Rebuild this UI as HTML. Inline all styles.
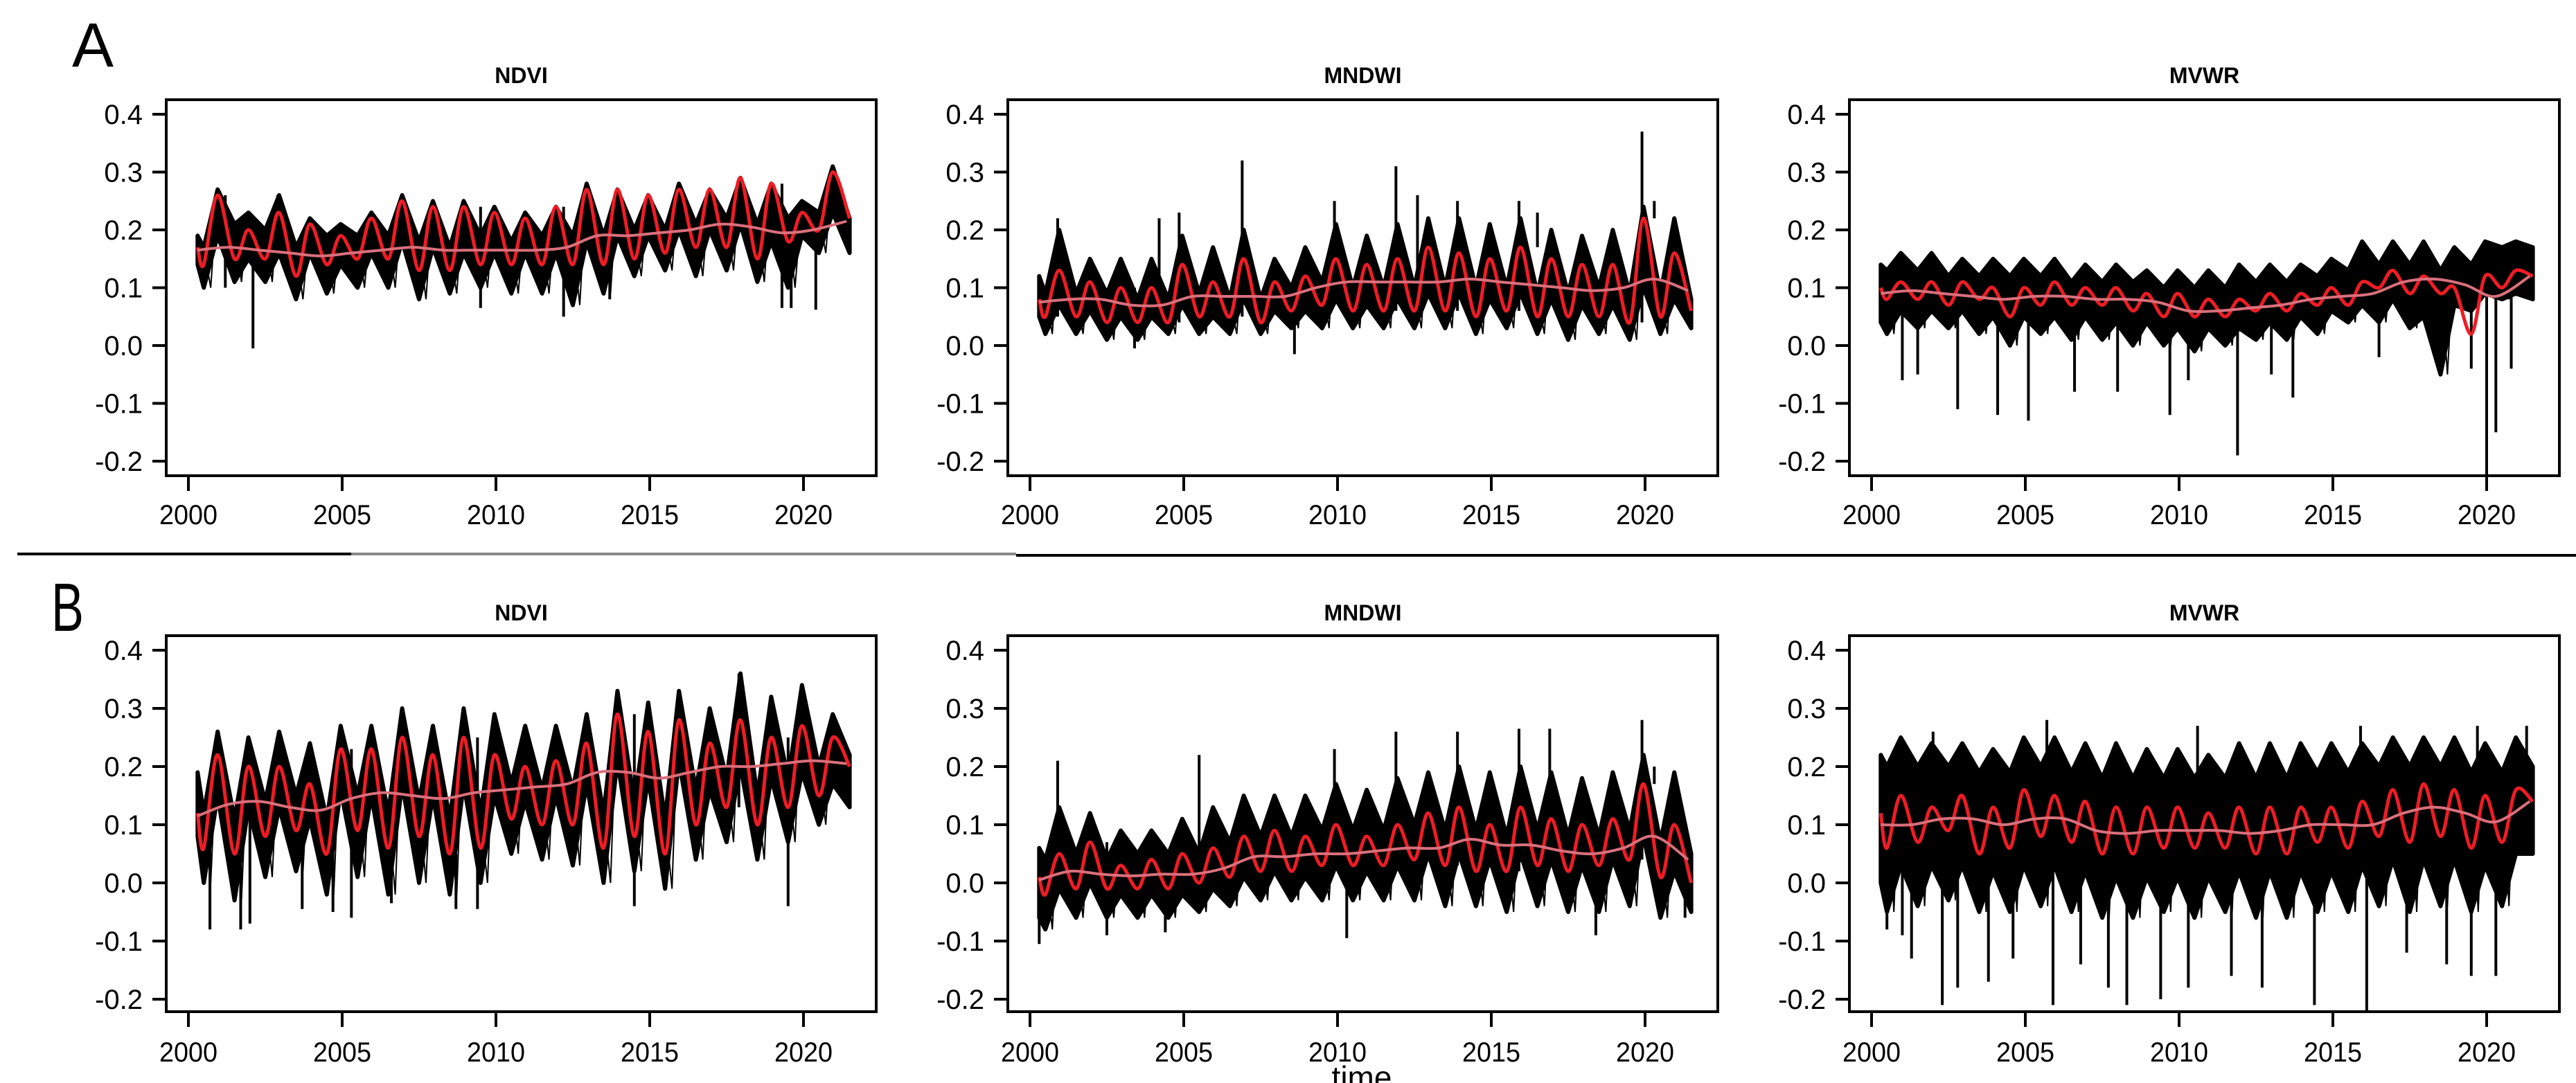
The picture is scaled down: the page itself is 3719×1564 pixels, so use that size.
<!DOCTYPE html>
<html><head><meta charset="utf-8"><style>
html,body{margin:0;padding:0;background:#fff;}
svg{display:block;font-family:"Liberation Sans",Arial,sans-serif;}
</style></head><body>
<svg id="fig" width="3719" height="1564" viewBox="0 0 3719 1564" xmlns="http://www.w3.org/2000/svg"></svg>
<script>
// shared x categories
const yearTicks = [2000, 2005, 2010, 2015, 2020];
const valueTicks = [0.4, 0.3, 0.2, 0.1, 0.0, -0.1, -0.2];
const valueTickLabels = ["0.4","0.3","0.2","0.1","0.0","-0.1","-0.2"];
// sample times: start, then (trough y+0.5, peak y+0.95) for 2000..2020, end
const sampleTimes = [2000.3,
 2000.5,2000.95,2001.5,2001.95,2002.5,2002.95,2003.5,2003.95,2004.5,2004.95,
 2005.5,2005.95,2006.5,2006.95,2007.5,2007.95,2008.5,2008.95,2009.5,2009.95,
 2010.5,2010.95,2011.5,2011.95,2012.5,2012.95,2013.5,2013.95,2014.5,2014.95,
 2015.5,2015.95,2016.5,2016.95,2017.5,2017.95,2018.5,2018.95,2019.5,2019.95,
 2020.5,2020.95,2021.5];
const trendTimes = [2000.3,2001.3,2002.3,2003.3,2004.3,2005.3,2006.3,2007.3,2008.3,2009.3,2010.3,2011.3,2012.3,2013.3,2014.3,2015.3,2016.3,2017.3,2018.3,2019.3,2020.3,2021.4];

// ---- A: NDVI
const aNdviRed = [.17,.14,.26,.15,.20,.15,.23,.12,.21,.14,.19,.15,.22,.15,.25,.13,.24,.13,.24,.14,.23,.14,.22,.14,.24,.14,.27,.14,.27,.15,.26,.16,.27,.17,.27,.17,.29,.15,.28,.18,.23,.20,.30,.22];
const aNdviHi = [.19,.17,.27,.21,.23,.20,.26,.17,.22,.19,.21,.19,.23,.19,.26,.18,.25,.17,.25,.19,.24,.18,.23,.19,.24,.19,.28,.19,.27,.20,.26,.20,.28,.21,.27,.22,.29,.21,.28,.22,.25,.23,.31,.22];
const aNdviLo = [.14,.10,.19,.11,.15,.11,.16,.08,.16,.09,.14,.10,.16,.10,.18,.08,.17,.09,.16,.10,.16,.09,.16,.09,.16,.07,.18,.09,.19,.12,.19,.13,.20,.12,.20,.13,.21,.11,.18,.10,.19,.16,.23,.16];
const aNdviTrend = [.165,.17,.165,.16,.155,.16,.165,.17,.165,.165,.165,.165,.17,.19,.19,.195,.20,.21,.205,.195,.20,.215];
const aNdviSpikeT = [2002.1,2012.2,2019.3,2019.6,2020.4,2013.7,2009.5,2002.9,2001.2];
const aNdviSpikeV = [-0.005,.05,.065,.065,.062,.08,.065,.26,.10];

// ---- A: MNDWI
const aMndwiRed = [.08,.05,.13,.05,.11,.04,.10,.04,.10,.04,.14,.05,.11,.05,.15,.04,.11,.06,.12,.07,.15,.06,.14,.06,.15,.06,.17,.06,.16,.05,.15,.06,.17,.05,.15,.05,.14,.05,.14,.04,.22,.05,.16,.06];
const aMndwiHi = [.12,.09,.20,.09,.15,.09,.15,.08,.15,.08,.19,.09,.17,.08,.20,.08,.15,.10,.17,.11,.21,.10,.19,.10,.21,.10,.22,.10,.22,.10,.21,.10,.22,.09,.20,.09,.19,.10,.20,.09,.24,.09,.22,.08];
const aMndwiLo = [.05,.02,.07,.02,.06,.01,.05,.01,.05,.02,.07,.02,.05,.02,.08,.02,.06,.03,.06,.03,.08,.03,.07,.03,.08,.03,.09,.03,.09,.02,.08,.03,.09,.02,.08,.01,.07,.02,.07,.01,.10,.02,.08,.03];
const aMndwiTrend = [.075,.08,.08,.07,.07,.085,.085,.085,.085,.10,.11,.11,.11,.11,.115,.11,.105,.10,.095,.10,.115,.095];
const aMndwiSpikeT = [2000.9,2004.2,2004.85,2006.9,2008.6,2009.9,2011.9,2012.6,2013.9,2015.9,2016.5,2019.9,2020.3,2003.4];
const aMndwiSpikeV = [.22,.22,.23,.32,-.015,.25,.31,.26,.25,.25,.23,.37,.25,-.005];

// ---- A: MVWR
const aMvwrRed = [.10,.08,.11,.08,.11,.07,.11,.08,.10,.05,.10,.07,.11,.07,.10,.07,.10,.06,.09,.05,.09,.05,.08,.05,.08,.06,.09,.06,.09,.07,.10,.07,.11,.10,.13,.09,.12,.09,.10,.02,.12,.10,.13,.12];
const aMvwrHi = [.14,.13,.16,.13,.16,.12,.15,.12,.15,.12,.15,.12,.15,.11,.14,.11,.14,.11,.13,.10,.13,.10,.13,.10,.14,.11,.14,.11,.14,.12,.15,.13,.18,.14,.18,.14,.18,.13,.17,.14,.18,.17,.18,.17];
const aMvwrLo = [.04,.02,.06,.03,.06,.03,.06,.02,.05,.00,.05,.02,.05,.01,.05,.01,.04,.00,.04,.00,.03,-.01,.03,.00,.03,.01,.04,.01,.05,.02,.06,.04,.07,.04,.08,.03,.05,-.05,.07,.06,.09,.08,.09,.08];
const aMvwrTrend = [.09,.095,.09,.085,.08,.085,.085,.08,.08,.075,.06,.06,.065,.07,.08,.085,.09,.11,.115,.105,.085,.12];
const aMvwrSpikeT = [2001.0,2001.5,2002.8,2004.1,2005.1,2006.6,2008.0,2009.7,2010.3,2011.9,2013.0,2013.7,2016.5,2019.5,2020.0,2020.3,2020.8];
const aMvwrSpikeV = [-.06,-.05,-.11,-.12,-.13,-.08,-.08,-.12,-.06,-.19,-.05,-.09,-.02,-.04,-.23,-.15,-.04];

// ---- B: NDVI
const bNdviRed = [.12,.06,.22,.05,.20,.08,.20,.09,.17,.05,.23,.09,.23,.06,.25,.08,.22,.05,.25,.06,.22,.11,.20,.10,.21,.10,.24,.06,.29,.08,.26,.05,.28,.10,.24,.13,.28,.10,.25,.13,.27,.15,.25,.20];
const bNdviHi = [.19,.12,.26,.11,.25,.14,.26,.15,.24,.11,.27,.15,.27,.12,.30,.14,.27,.11,.30,.12,.29,.17,.27,.16,.27,.16,.29,.12,.33,.14,.31,.11,.33,.16,.30,.18,.36,.15,.32,.18,.34,.20,.29,.22];
const bNdviLo = [.08,.00,.15,-.03,.13,.01,.13,.02,.11,-.02,.16,.01,.15,-.02,.17,.00,.15,-.02,.17,.00,.15,.05,.14,.04,.15,.03,.17,.00,.21,.02,.18,-.01,.21,.04,.16,.07,.20,.04,.18,.07,.19,.10,.17,.13];
const bNdviTrend = [.115,.135,.14,.13,.125,.145,.155,.15,.145,.155,.16,.165,.17,.19,.19,.18,.19,.20,.20,.205,.21,.205];
const bNdviSpikeT = [2000.7,2001.7,2002.0,2003.7,2004.7,2005.3,2006.6,2008.7,2009.4,2014.5,2019.5,2017.9];
const bNdviSpikeV = [-.08,-.08,-.07,-.045,-.05,-.06,-.035,-.045,-.045,-.04,-.04,.36];

// ---- B: MNDWI
const bMndwiRed = [.01,-.02,.05,-.01,.07,-.01,.03,-.01,.04,-.01,.05,.00,.06,.01,.08,.02,.09,.02,.08,.03,.10,.03,.08,.03,.10,.04,.12,.03,.13,.02,.10,.02,.13,.03,.11,.02,.10,.03,.11,.04,.17,.01,.10,.00];
const bMndwiHi = [.06,.04,.13,.05,.12,.04,.09,.05,.09,.05,.11,.05,.13,.07,.15,.08,.15,.08,.15,.09,.17,.09,.16,.09,.18,.10,.19,.09,.20,.09,.19,.08,.20,.09,.19,.08,.18,.08,.19,.09,.22,.07,.19,.05];
const bMndwiLo = [-.06,-.08,-.01,-.06,.00,-.06,-.02,-.06,-.02,-.06,-.02,-.05,-.01,-.04,.01,-.03,.02,-.03,.01,-.03,.03,-.03,.02,-.03,.03,-.03,.05,-.04,.05,-.04,.04,-.05,.05,-.04,.04,-.05,.03,-.05,.04,-.04,.08,-.06,.02,-.05];
const bMndwiTrend = [.005,.02,.015,.012,.015,.015,.025,.045,.045,.05,.05,.055,.06,.06,.075,.065,.065,.055,.05,.06,.08,.04];
const bMndwiSpikeT = [2000.3,2000.9,2002.5,2004.4,2005.5,2009.9,2010.3,2011.9,2013.9,2015.9,2016.9,2018.4,2019.9,2020.3,2021.3];
const bMndwiSpikeV = [-.105,.21,-.09,-.085,.22,.23,-.095,.26,.26,.265,.265,-.09,.28,.20,-.06];

// ---- B: MVWR
const bMvwrRed = [.12,.06,.15,.07,.13,.09,.15,.05,.13,.06,.16,.08,.15,.07,.14,.05,.13,.05,.13,.06,.13,.06,.12,.06,.13,.05,.13,.05,.13,.07,.13,.06,.14,.08,.16,.07,.17,.08,.16,.06,.15,.07,.16,.14];
const bMvwrHi = [.22,.20,.25,.20,.24,.20,.24,.19,.23,.19,.25,.20,.25,.19,.24,.18,.24,.18,.23,.18,.23,.18,.22,.18,.24,.18,.24,.18,.24,.19,.24,.19,.24,.20,.25,.20,.25,.20,.25,.19,.24,.19,.25,.20];
const bMvwrLo = [.00,-.05,.03,-.04,.03,-.03,.03,-.05,.02,-.05,.03,-.04,.03,-.05,.02,-.06,.01,-.06,.01,-.05,.01,-.06,.01,-.05,.02,-.06,.02,-.06,.02,-.05,.02,-.05,.03,-.04,.04,-.05,.04,-.04,.04,-.05,.03,-.04,.05,.05];
const bMvwrTrend = [.10,.10,.11,.11,.10,.11,.11,.09,.085,.09,.09,.09,.085,.09,.10,.10,.10,.12,.13,.12,.105,.14];
const bMvwrSpikeT = [2000.5,2001.0,2001.3,2002.3,2002.8,2003.8,2004.6,2005.9,2006.8,2007.7,2008.3,2009.4,2010.3,2011.7,2012.7,2014.4,2016.1,2017.4,2018.7,2019.5,2020.3,2020.5,2002.0,2005.7,2010.6,2015.9,2019.7,2021.3];
const bMvwrSpikeV = [-.08,-.09,-.13,-.21,-.18,-.17,-.13,-.21,-.14,-.18,-.21,-.20,-.18,-.16,-.18,-.21,-.22,-.12,-.14,-.16,-.16,-.04,.26,.28,.27,.27,.27,.27];

const NS = "http://www.w3.org/2000/svg";
const svg = document.getElementById('fig');
function mk(tag, attrs, parent) {
  const e = document.createElementNS(NS, tag);
  for (const k in attrs) e.setAttribute(k, attrs[k]);
  (parent || svg).appendChild(e);
  return e;
}

const panels = [
  {key:'a-ndvi', title:'NDVI', L:240, row:0, red:aNdviRed, hi:aNdviHi, lo:aNdviLo, trend:aNdviTrend, st:aNdviSpikeT, sv:aNdviSpikeV},
  {key:'a-mndwi', title:'MNDWI', L:1455, row:0, red:aMndwiRed, hi:aMndwiHi, lo:aMndwiLo, trend:aMndwiTrend, st:aMndwiSpikeT, sv:aMndwiSpikeV},
  {key:'a-mvwr', title:'MVWR', L:2670, row:0, red:aMvwrRed, hi:aMvwrHi, lo:aMvwrLo, trend:aMvwrTrend, st:aMvwrSpikeT, sv:aMvwrSpikeV},
  {key:'b-ndvi', title:'NDVI', L:240, row:1, red:bNdviRed, hi:bNdviHi, lo:bNdviLo, trend:bNdviTrend, st:bNdviSpikeT, sv:bNdviSpikeV},
  {key:'b-mndwi', title:'MNDWI', L:1455, row:1, red:bMndwiRed, hi:bMndwiHi, lo:bMndwiLo, trend:bMndwiTrend, st:bMndwiSpikeT, sv:bMndwiSpikeV},
  {key:'b-mvwr', title:'MVWR', L:2670, row:1, red:bMvwrRed, hi:bMvwrHi, lo:bMvwrLo, trend:bMvwrTrend, st:bMvwrSpikeT, sv:bMvwrSpikeV}
];
const rows = [
  {top:144, bottom:687, y04:165, y02:666, titleY:120, labelY:757},
  {top:918, bottom:1461, y04:939, y02:1443, titleY:896, labelY:1533}
];
const W = 1025;

function smoothPath(pts) {
  let d = 'M' + pts[0][0].toFixed(1) + ',' + pts[0][1].toFixed(1);
  for (let i = 0; i < pts.length - 1; i++) {
    const p0 = pts[Math.max(0, i-1)], p1 = pts[i], p2 = pts[i+1], p3 = pts[Math.min(pts.length-1, i+2)];
    const c1x = p1[0] + (p2[0]-p0[0])/6, c1y = p1[1] + (p2[1]-p0[1])/6;
    const c2x = p2[0] - (p3[0]-p1[0])/6, c2y = p2[1] - (p3[1]-p1[1])/6;
    d += ' C' + c1x.toFixed(1)+','+c1y.toFixed(1)+' '+c2x.toFixed(1)+','+c2y.toFixed(1)+' '+p2[0].toFixed(1)+','+p2[1].toFixed(1);
  }
  return d;
}

panels.forEach((p, idx) => {
  const r = rows[p.row];
  const xs = t => p.L + 32 + (t - 2000) * 44.4;
  const ys = v => r.y04 + (0.4 - v) * (r.y02 - r.y04) / 0.6;
  const g = mk('g', {});
  
  

  const cp = mk('clipPath', {id:'clip'+idx}, g);
  mk('rect', {x:p.L, y:r.top, width:W, height:r.bottom - r.top}, cp);

  const title = mk('text', {x:p.L + W/2, y:r.titleY, 'text-anchor':'middle', 'font-size':32, 'font-weight':'bold'}, g);
  title.textContent = p.title;
  
  

  const plot = mk('g', {'clip-path':'url(#clip'+idx+')'}, g);
  
  

  // black raw series band
  let d = '';
  sampleTimes.forEach((t, i) => { d += (i ? 'L' : 'M') + xs(t).toFixed(1) + ',' + ys(p.hi[i]).toFixed(1); });
  for (let i = sampleTimes.length - 1; i >= 0; i--) d += 'L' + xs(sampleTimes[i]).toFixed(1) + ',' + ys(p.lo[i]).toFixed(1);
  const band = mk('path', {d: d + 'Z', fill:'#000', stroke:'#000', 'stroke-width':6, 'stroke-linejoin':'round'}, plot);
  
  

  // zigzag noise from hi/lo
  let z = '';
  sampleTimes.forEach((t, i) => {
    z += (i ? 'L' : 'M') + xs(t).toFixed(1) + ',' + ys(p.hi[i]).toFixed(1);
    if (i < sampleTimes.length - 1) {
      const tm = (t + sampleTimes[i+1]) / 2;
      z += 'L' + xs(tm).toFixed(1) + ',' + ys(p.lo[i]).toFixed(1);
    }
  });
  const zz = mk('path', {d:z, fill:'none', stroke:'#000', 'stroke-width':2}, plot);
  
  

  // spikes (from seasonal value to spike value)
  p.st.forEach((t, i) => {
    let k = 0; while (k < sampleTimes.length - 1 && sampleTimes[k+1] < t) k++;
    const s = mk('line', {x1:xs(t), x2:xs(t), y1:ys(p.red[k]), y2:ys(p.sv[i]), stroke:'#000', 'stroke-width':4}, plot);
    
    
  });

  // seasonal (red)
  const rp = sampleTimes.map((t, i) => [xs(t), ys(p.red[i])]);
  const red = mk('path', {d:smoothPath(rp), fill:'none', stroke:'#ee1c24', 'stroke-width':5, 'stroke-linejoin':'round'}, plot);
  
  

  // trend (pink)
  const tp = trendTimes.map((t, i) => [xs(t), ys(p.trend[i])]);
  const tr = mk('path', {d:smoothPath(tp), fill:'none', stroke:'#d9707c', 'stroke-width':4}, plot);
  
  

  // box
  const box = mk('rect', {x:p.L, y:r.top, width:W, height:r.bottom - r.top, fill:'none', stroke:'#000', 'stroke-width':4}, g);
  
  

  // y axis
  valueTicks.forEach((v, i) => {
    const tk = mk('line', {x1:p.L - 20, x2:p.L, y1:ys(v), y2:ys(v), stroke:'#000', 'stroke-width':4}, g);
    
    
    const lb = mk('text', {x:p.L - 34, y:ys(v) + 14, 'text-anchor':'end', 'font-size':40}, g);
    lb.textContent = valueTickLabels[i];
    
    
  });
  // x axis
  yearTicks.forEach(yv => {
    const tk = mk('line', {x1:xs(yv), x2:xs(yv), y1:r.bottom + 2, y2:r.bottom + 22, stroke:'#000', 'stroke-width':4}, g);
    
    
    const lb = mk('text', {x:xs(yv), y:r.labelY, 'text-anchor':'middle', 'font-size':40, textLength:84, lengthAdjust:'spacingAndGlyphs'}, g);
    lb.textContent = String(yv);
    
    
  });
});

// panel letters
const la = mk('text', {x:104, y:96, 'font-size':90, textLength:60, lengthAdjust:'spacingAndGlyphs'});
la.textContent = 'A';


const lbB = mk('text', {x:74, y:911, 'font-size':98, textLength:47, lengthAdjust:'spacingAndGlyphs'});
lbB.textContent = 'B';



// separator
const s1 = mk('line', {x1:25, x2:507, y1:800, y2:800, stroke:'#000', 'stroke-width':4});


const s2 = mk('line', {x1:507, x2:1467, y1:800, y2:800, stroke:'#888', 'stroke-width':4});


const s3 = mk('line', {x1:1467, x2:3719, y1:802, y2:802, stroke:'#000', 'stroke-width':4});



// x axis title
const xt = mk('text', {x:1966, y:1572, 'text-anchor':'middle', 'font-size':46});
xt.textContent = 'time';


</script>
</body></html>
